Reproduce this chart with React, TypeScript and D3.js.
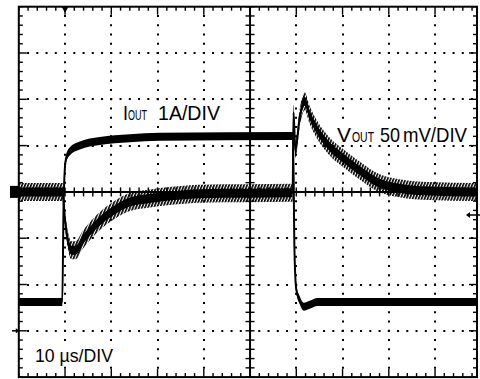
import React from "react";
import * as d3 from "d3";

// ---- data ----
// V_OUT (mV, 50 mV/div) vs time (µs, 10 µs/div)
const vTimeUs = [0, 9.5, 9.9, 10.6, 11.4, 12.3, 13.8, 16.0, 18.1, 21.2, 24.0, 28.3, 33.7, 39.1, 59.2, 59.4, 59.8, 60.7, 61.8, 62.9, 65.0, 67.2, 70.8, 74.3, 77.3, 82.3, 88.8, 98.9];
const vOutMv = [0, 0, -25, -52, -63, -63, -52, -39, -29, -18, -11, -7, -4, -2, -1, 86, 45, 79, 98, 83, 63, 49, 34, 21, 11, 4, 1, 0];
// I_OUT (A, 1 A/div) vs time (µs)
const iTimeUs = [0, 9.4, 9.7, 10.15, 11.0, 13.2, 17.5, 24.0, 30.5, 59.3, 59.6, 60.0, 60.7, 61.6, 62.9, 64.6, 98.9];
const iOutA = [0.62, 0.62, 2.83, 3.69, 3.87, 4.0, 4.1, 4.16, 4.19, 4.21, 1.75, 0.89, 0.67, 0.52, 0.56, 0.62, 0.62];
// axis settings
const timeDomainUs = [0, 100];
const vDomainMv = [-200, 200];
const iDomainA = [-1, 7];
const labelI = ["I", "OUT", "1A/DIV"];
const labelV = ["V", "OUT", "50", "mV/DIV"];
const labelT = "10 µs/DIV";

const W = 480, H = 379;
const X0 = 18.8, DIVX = 46.25, Y0 = 6.7, DIVY = 46.3;
const RIGHT = 477;
const BOTTOM = Y0 + 8 * DIVY;
const FONT = "'Liberation Sans', Arial, Helvetica, sans-serif";

export default function App() {
  const x = d3.scaleLinear().domain(timeDomainUs).range([X0, X0 + 10 * DIVX]);
  const yV = d3.scaleLinear().domain(vDomainMv).range([BOTTOM, Y0]);
  const yI = d3.scaleLinear().domain(iDomainA).range([BOTTOM, Y0]);
  const yDiv = d3.scaleLinear().domain([-4, 4]).range([BOTTOM, Y0]);

  const cx = x(50);
  const cy = yDiv(0);

  const majorX = d3.range(10, 100, 10).filter((t) => t !== 50).map(x);
  const minorX = d3.range(0, 100.01, 2).map(x).filter((p) => p <= RIGHT + 0.1 && p >= X0);
  const majorY = d3.range(-3, 4, 1).filter((d) => d !== 0).map(yDiv);
  const minorY = d3.range(-4, 4.01, 0.2).map(yDiv);
  const stepX = DIVX / 5;
  const stepY = DIVY / 5;

  const vPts = vTimeUs.map((t, i) => [t, vOutMv[i]] as [number, number]);
  const iPts = iTimeUs.map((t, i) => [t, iOutA[i]] as [number, number]);

  const vLine = d3.line<[number, number]>().x((d) => x(d[0])).y((d) => yV(d[1])).curve(d3.curveMonotoneX);
  const vBand = d3.area<[number, number]>().x((d) => x(d[0])).y0((d) => yV(d[1]) - 9).y1((d) => yV(d[1]) + 9).curve(d3.curveMonotoneX);
  const vCore = d3.area<[number, number]>().x((d) => x(d[0])).y0((d) => yV(d[1]) - 4.5).y1((d) => yV(d[1]) + 4.5).curve(d3.curveMonotoneX);
  const iLine = d3.line<[number, number]>().x((d) => x(d[0])).y((d) => yI(d[1])).curve(d3.curveMonotoneX);
  const iBand = d3.area<[number, number]>().x((d) => x(d[0])).y0((d) => yI(d[1]) - 4).y1((d) => yI(d[1]) + 4).curve(d3.curveMonotoneX);

  const ticks: JSX.Element[] = [];
  minorX.forEach((px, j) => {
    const major = majorX.some((m) => Math.abs(m - px) < 0.5) || Math.abs(px - cx) < 0.5;
    const len = major ? 8 : 4;
    ticks.push(<line key={`tt${j}`} x1={px} x2={px} y1={Y0} y2={Y0 + len} />);
    ticks.push(<line key={`tb${j}`} x1={px} x2={px} y1={BOTTOM} y2={BOTTOM - len} />);
    ticks.push(<line key={`tc${j}`} x1={px} x2={px} y1={cy - 4.5} y2={cy + 4.5} />);
  });
  minorY.forEach((py, j) => {
    const major = majorY.some((m) => Math.abs(m - py) < 0.5) || Math.abs(py - cy) < 0.5;
    const len = major ? 8 : 4;
    ticks.push(<line key={`tl${j}`} x1={X0} x2={X0 + len} y1={py} y2={py} />);
    ticks.push(<line key={`tr${j}`} x1={RIGHT} x2={RIGHT - len} y1={py} y2={py} />);
    ticks.push(<line key={`tm${j}`} x1={cx - 4.5} x2={cx + 4.5} y1={py} y2={py} />);
  });

  return (
    <svg width={W} height={H} style={{ position: "absolute", left: 0, top: 0, background: "#fff" }}>
      <defs>
        <clipPath id="plot">
          <rect x={X0} y={Y0} width={RIGHT - X0} height={BOTTOM - Y0} />
        </clipPath>
        <pattern id="ring" width={3} height={30} patternUnits="userSpaceOnUse" patternTransform="skewX(-22)">
          <rect x={0} y={0} width={1.8} height={30} fill="#000" />
        </pattern>
      </defs>
      <rect x={0} y={0} width={W} height={H} fill="#fff" />
      {/* dotted graticule: one dot per minor division */}
      <g stroke="#000" strokeWidth={2} strokeDasharray={`2 ${stepY - 2}`}>
        {majorX.map((px, i) => (
          <line key={`gv${i}`} x1={Math.round(px)} x2={Math.round(px)} y1={Y0 + stepY - 1} y2={BOTTOM - 2} />
        ))}
      </g>
      <g stroke="#000" strokeWidth={2} strokeDasharray={`2 ${stepX - 2}`}>
        {majorY.map((py, i) => (
          <line key={`gh${i}`} x1={X0 + stepX - 1} x2={RIGHT - 2} y1={Math.round(py)} y2={Math.round(py)} />
        ))}
      </g>
      <g stroke="#000" strokeWidth={1.4}>{ticks}</g>
      <line x1={cx} x2={cx} y1={Y0} y2={BOTTOM} stroke="#000" strokeWidth={2} />
      <line x1={X0} x2={RIGHT} y1={cy} y2={cy} stroke="#000" strokeWidth={2} />
      <rect x={X0} y={Y0} width={RIGHT - X0} height={BOTTOM - Y0} fill="none" stroke="#000" strokeWidth={2} />

      {/* label backgrounds */}
      <g fill="#fff">
        <rect x={121} y={102} width={102} height={21} />
        <rect x={335} y={124} width={135} height={21} />
        <rect x={32} y={344} width={84} height={21} />
      </g>

      <g clipPath="url(#plot)">
        <path d={vBand(vPts) || ""} fill="url(#ring)" />
        <path d={vCore(vPts) || ""} fill="#000" />
        <path d={vLine(vPts) || ""} fill="none" stroke="#000" strokeWidth={2} />
        <path d={iBand(iPts) || ""} fill="#000" />
        <path d={iLine(iPts) || ""} fill="none" stroke="#000" strokeWidth={2} />
      </g>

      {/* scope markers */}
      <path d={`M${x(10) - 3.5},${Y0} L${x(10) + 3.5},${Y0} L${x(10)},${Y0 + 6} Z`} fill="#000" />
      <rect x={10} y={cy - 6} width={8.5} height={12} fill="#000" />
      <g stroke="#000" strokeWidth={1.5}>
        <line x1={12} x2={X0} y1={yI(0)} y2={yI(0)} />
        <line x1={469} x2={480} y1={215} y2={215} />
      </g>
      <path d={`M${X0 + 1},${yI(0)} l-4,-2.5 l0,5 Z`} fill="#000" />
      <path d={`M466,215 l4,-3 l0,6 Z`} fill="#000" />

      <g fontFamily={FONT} fill="#000">
        <text x={123} y={120} fontSize={21} textLength={5} lengthAdjust="spacingAndGlyphs">{labelI[0]}</text>
        <text x={128} y={120} fontSize={14} textLength={19} lengthAdjust="spacingAndGlyphs">{labelI[1]}</text>
        <text x={158} y={120} fontSize={21} textLength={62} lengthAdjust="spacingAndGlyphs">{labelI[2]}</text>
        <text x={337} y={142} fontSize={21} textLength={14} lengthAdjust="spacingAndGlyphs">{labelV[0]}</text>
        <text x={352} y={142} fontSize={14} textLength={22} lengthAdjust="spacingAndGlyphs">{labelV[1]}</text>
        <text x={380} y={142} fontSize={21} textLength={20} lengthAdjust="spacingAndGlyphs">{labelV[2]}</text>
        <text x={403} y={142} fontSize={21} textLength={64} lengthAdjust="spacingAndGlyphs">{labelV[3]}</text>
        <text x={35} y={362} fontSize={19} textLength={78} lengthAdjust="spacingAndGlyphs">{labelT}</text>
      </g>
    </svg>
  );
}
